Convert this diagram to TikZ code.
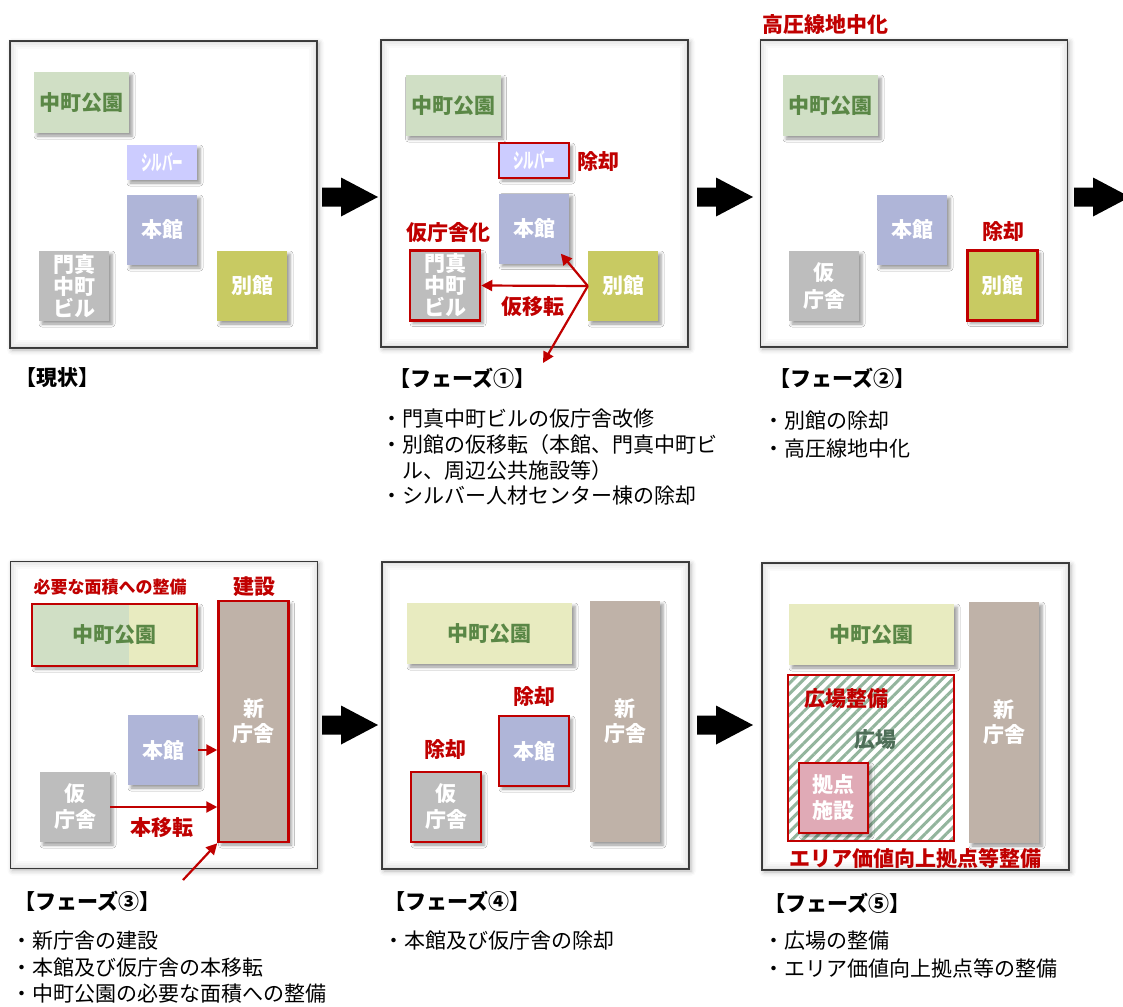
\documentclass[tikz,border=0pt]{standalone}
\usepackage{fontspec}
\setmainfont{Noto Sans CJK JP}
\newfontfamily\silverfont[FakeStretch=0.5]{Noto Sans CJK JP}
\usetikzlibrary{arrows.meta,calc,shadows.blur,patterns.meta}

\definecolor{redc}{HTML}{C00000}
\definecolor{parkc}{HTML}{D0DFC5}
\definecolor{parkyc}{HTML}{E8EBC0}
\definecolor{parktextc}{HTML}{5A8746}
\definecolor{silverc}{HTML}{CCCCFF}
\definecolor{honkanc}{HTML}{AFB5D8}
\definecolor{grayc}{HTML}{BDBDBD}
\definecolor{bekkanc}{HTML}{C8CA62}
\definecolor{shinc}{HTML}{BFB2A8}
\definecolor{kyotenc}{HTML}{E0AAB6}
\definecolor{hatchc}{HTML}{93B59D}
\definecolor{plazatextc}{HTML}{4E6E58}

% thick black step arrow between two phases
\newcommand{\bigarrow}[2]{%
  \fill (#1,#2) ++(0,-9.5) -- ++(19,0) -- ++(0,-10) -- ++(37,19.5)
    -- ++(-37,19.5) -- ++(0,-10) -- ++(-19,0) -- cycle;}
% soft grey band inside a phase frame
\newcommand{\glow}[1]{%
  \foreach \d/\o in {1.5/0.10,3.5/0.07,5.5/0.045,7.5/0.02}
    \draw[black, opacity=\o, line width=2pt]
      ($(#1.north west)+(\d,\d)$) rectangle ($(#1.south east)+(-\d,-\d)$);}

\tikzset{
  panel/.style={draw=black!75, line width=1.2pt, fill=white, inner sep=0pt,
    minimum width=307pt, minimum height=307pt,
    blur shadow={shadow xshift=2pt, shadow yshift=-2pt, shadow blur radius=5pt, shadow opacity=30}},
  bldg/.style={minimum width=70pt, minimum height=70pt, inner sep=0pt, align=center,
    text=white, font=\bfseries\fontsize{21}{26}\selectfont,
    blur shadow={shadow xshift=3pt, shadow yshift=-3pt, shadow blur radius=3pt, shadow opacity=40}},
  park/.style={bldg, fill=parkc, text=parktextc, minimum width=95pt, minimum height=61pt},
  silver/.style={bldg, fill=silverc, minimum height=35pt, font=\silverfont\bfseries\fontsize{21}{22}\selectfont},
  redline/.style={draw=redc, line width=2.5pt},
  redtext/.style={text=redc, inner sep=0pt, font=\bfseries\fontsize{21}{24}\selectfont},
  phase/.style={anchor=west, inner sep=0pt, font=\bfseries\fontsize{21}{24}\selectfont},
  notes/.style={anchor=north west, inner sep=0pt, align=left, font=\fontsize{21}{27.5}\selectfont},
  move/.style={draw=redc, line width=2.2pt, -{Triangle[length=11pt,width=11pt]}},
}

\begin{document}
\begin{tikzpicture}[x=1pt, y=-1pt]
\useasboundingbox (0,0) rectangle (1123,1006);

% frames
\node[panel] (p1) at (163.5,194.5) {};
\node[panel] (p2) at (534.5,193.5) {};
\node[panel] (p3) at (914,193.5) {};
\node[panel] (p4) at (164,715) {};
\node[panel] (p5) at (535.5,715.5) {};
\node[panel] (p6) at (915.5,716.5) {};
\foreach \p in {p1,p2,p3,p4,p5,p6} {\glow{\p}}

\bigarrow{322}{197}
\bigarrow{697}{197}
\bigarrow{1074}{197}
\bigarrow{322}{725}
\bigarrow{697}{725}

% now
\node[park] (park1) at (81.5,102.5) {中町公園};
\node[silver] (silver1) at (162,162.5) {シルバー};
\node[bldg, fill=honkanc] (honkan1) at (162,230) {本館};
\node[bldg, fill=grayc, font=\bfseries\fontsize{21}{22}\selectfont] (monma1) at (74,286) {門真\\中町\\ビル};
\node[bldg, fill=bekkanc] (bekkan1) at (252,286) {別館};
\node[phase] (h1) at (15,378) {【現状】};

% phase 1
\node[park] (park2) at (453,105.5) {中町公園};
\node[silver, redline] (silver2) at (534,160.5) {シルバー};
\node[redtext] (del2) at (598,162) {除却};
\node[bldg, fill=honkanc] (honkan2) at (534,228.5) {本館};
\node[redtext] (temp2) at (448,233) {仮庁舎化};
\node[bldg, fill=grayc, redline, font=\bfseries\fontsize{21}{22}\selectfont] (monma2) at (445,285.5) {門真\\中町\\ビル};
\node[bldg, fill=bekkanc] (bekkan2) at (623,286) {別館};
\node[redtext] (move2) at (533,307) {仮移転};
\coordinate (out2) at (543,363);
\draw[move] (bekkan2.west) -- ($(bekkan2.west)!1.45!(honkan2.south east)$);
\draw[move] (bekkan2.west) -- (monma2.east);
\draw[move] (bekkan2.west) -- (out2);
\node[phase] (h2) at (389,378) {【フェーズ①】};
\node[notes, font=\fontsize{21}{25.7}\selectfont] (n2) at (381,409)
  {・門真中町ビルの仮庁舎改修\\・別館の仮移転（本館、門真中町ビ\\\hspace*{21pt}ル、周辺公共施設等）\\・シルバー人材センター棟の除却};

% phase 2
\node[redtext] (cable3) at (825,25) {高圧線地中化};
\node[park] (park3) at (830.5,105.5) {中町公園};
\node[bldg, fill=honkanc] (honkan3) at (912,230) {本館};
\node[bldg, fill=grayc, font=\bfseries\fontsize{21}{27}\selectfont] (kari3) at (824,286) {仮\\庁舎};
\node[redtext] (del3) at (1003,232) {除却};
\node[bldg, fill=bekkanc, redline] (bekkan3) at (1002.5,285.5) {別館};
\node[phase] (h3) at (769,378) {【フェーズ②】};
\node[notes] (n3) at (763,411) {・別館の除却\\・高圧線地中化};

% phase 3
\node[redtext, font=\bfseries\fontsize{17}{20}\selectfont] (area4) at (110,587) {必要な面積への整備};
\node[redtext] (build4) at (254,587) {建設};
\node[park, fill=parkyc, redline, minimum width=165pt, minimum height=62pt,
  path picture={\fill[parkc] (path picture bounding box.north west)
    rectangle ([xshift=97pt]path picture bounding box.south west);}] (park4) at (114.5,635) {中町公園};
\node[bldg, fill=shinc, redline, minimum height=241pt, font=\bfseries\fontsize{21}{25}\selectfont] (shin4) at (253.5,721.5) {新\\庁舎};
\node[bldg, fill=honkanc] (honkan4) at (163,750) {本館};
\node[bldg, fill=grayc] (kari4) at (75,807) {仮\\庁舎};
\node[redtext] (move4) at (162,828) {本移転};
\coordinate (in4) at (183,880);
\draw[move] (honkan4.east) -- (honkan4.east -| shin4.west);
\draw[move] (kari4.east) -- (kari4.east -| shin4.west);
\draw[move] (in4) -- (shin4.south west);
\node[phase] (h4) at (14,901) {【フェーズ③】};
\node[notes, font=\fontsize{21}{26.5}\selectfont] (n4) at (11,931) {・新庁舎の建設\\・本館及び仮庁舎の本移転\\・中町公園の必要な面積への整備};

% phase 4
\node[park, fill=parkyc, minimum width=165pt] (park5) at (489.5,633.5) {中町公園};
\node[bldg, fill=shinc, minimum height=241pt, font=\bfseries\fontsize{21}{25}\selectfont] (shin5) at (625,721.5) {新\\庁舎};
\node[redtext] (del5a) at (534,697) {除却};
\node[bldg, fill=honkanc, redline] (honkan5) at (534,751) {本館};
\node[redtext] (del5b) at (445,750) {除却};
\node[bldg, fill=grayc, redline] (kari5) at (446,807) {仮\\庁舎};
\node[phase] (h5) at (384,901) {【フェーズ④】};
\node[notes] (n5) at (383,931) {・本館及び仮庁舎の除却};

% phase 5
\node[park, fill=parkyc, minimum width=165pt] (park6) at (871.5,634.5) {中町公園};
\node[bldg, fill=shinc, minimum height=241pt, font=\bfseries\fontsize{21}{25}\selectfont] (shin6) at (1004,722.5) {新\\庁舎};
\node[redline, minimum width=166pt, minimum height=166pt, inner sep=0pt,
  pattern={Lines[angle=45,distance=7.5pt,line width=3pt]}, pattern color=hatchc] (plaza6) at (871,758) {};
\node[redtext] (plazawork6) at (846,699) {広場整備};
\node[text=plazatextc, inner sep=0pt, font=\bfseries\fontsize{21}{24}\selectfont] (plazaname6) at (875,740) {広場};
\node[bldg, fill=kyotenc, redline, minimum width=69pt] (kyoten6) at (833.5,798) {拠点\\施設};
\node[redtext] (areawork6) at (915,858) {エリア価値向上拠点等整備};
\node[phase] (h6) at (764,903) {【フェーズ⑤】};
\node[notes] (n6) at (763,931) {・広場の整備\\・エリア価値向上拠点等の整備};
\end{tikzpicture}
\end{document}
